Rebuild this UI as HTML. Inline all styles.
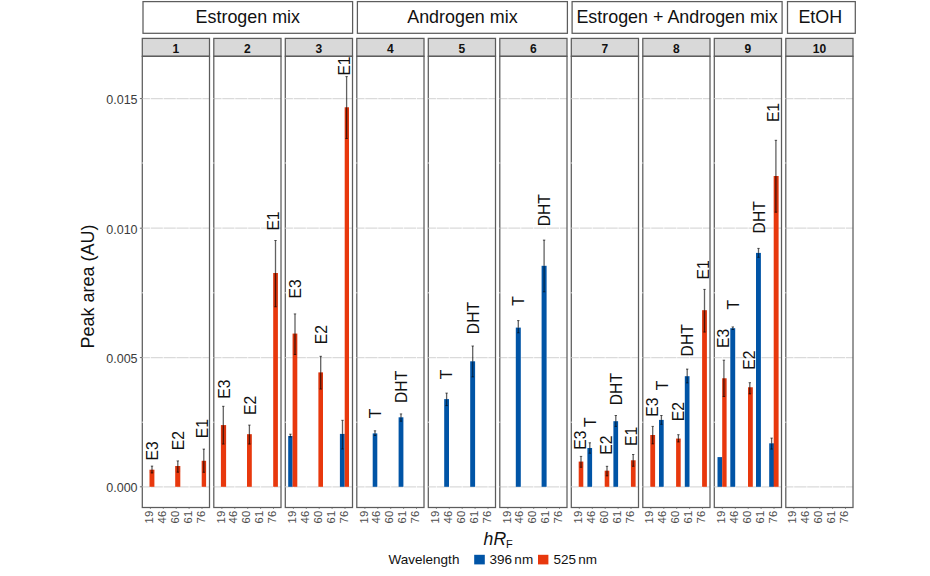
<!DOCTYPE html>
<html><head><meta charset="utf-8"><title>Peak area chart</title>
<style>html,body{margin:0;padding:0;background:#fff;}body{width:930px;height:576px;overflow:hidden;font-family:"Liberation Sans",sans-serif;}svg{display:block;}</style></head>
<body>
<svg width="930" height="576" viewBox="0 0 930 576" font-family="Liberation Sans, sans-serif">
<rect width="930" height="576" fill="#fff"/>
<rect x="143.0" y="1.6" width="209.6" height="31.7" fill="#fff" stroke="#5c5c5c" stroke-width="1.25"/>
<text x="247.8" y="23.4" font-size="17.9" text-anchor="middle" fill="#111">Estrogen mix</text>
<rect x="357.4" y="1.6" width="210.0" height="31.7" fill="#fff" stroke="#5c5c5c" stroke-width="1.25"/>
<text x="462.4" y="23.4" font-size="17.9" text-anchor="middle" fill="#111">Androgen mix</text>
<rect x="572.1" y="1.6" width="210.0" height="31.7" fill="#fff" stroke="#5c5c5c" stroke-width="1.25"/>
<text x="677.1" y="23.4" font-size="17.9" text-anchor="middle" fill="#111">Estrogen + Androgen mix</text>
<rect x="787.5" y="1.6" width="67.8" height="31.7" fill="#fff" stroke="#5c5c5c" stroke-width="1.25"/>
<text x="820.3" y="23.4" font-size="17.9" text-anchor="middle" fill="#111">EtOH</text>
<rect x="142.3" y="56.3" width="67.2" height="451.2" fill="#fff"/>
<line x1="142.3" x2="209.5" y1="98.6" y2="98.6" stroke="#dadada" stroke-width="1.2"/>
<line x1="142.3" x2="209.5" y1="228.2" y2="228.2" stroke="#dadada" stroke-width="1.2"/>
<line x1="142.3" x2="209.5" y1="357.6" y2="357.6" stroke="#dadada" stroke-width="1.2"/>
<line x1="142.3" x2="209.5" y1="486.8" y2="486.8" stroke="#dadada" stroke-width="1.2"/>
<line x1="150.4" x2="150.4" y1="56.3" y2="507.5" stroke="#fff" stroke-opacity="0.8" stroke-width="1.0"/>
<line x1="163.3" x2="163.3" y1="56.3" y2="507.5" stroke="#fff" stroke-opacity="0.8" stroke-width="1.0"/>
<line x1="176.2" x2="176.2" y1="56.3" y2="507.5" stroke="#fff" stroke-opacity="0.8" stroke-width="1.0"/>
<line x1="189.1" x2="189.1" y1="56.3" y2="507.5" stroke="#fff" stroke-opacity="0.8" stroke-width="1.0"/>
<line x1="202.0" x2="202.0" y1="56.3" y2="507.5" stroke="#fff" stroke-opacity="0.8" stroke-width="1.0"/>
<rect x="213.8" y="56.3" width="67.2" height="451.2" fill="#fff"/>
<line x1="213.8" x2="281.0" y1="98.6" y2="98.6" stroke="#dadada" stroke-width="1.2"/>
<line x1="213.8" x2="281.0" y1="228.2" y2="228.2" stroke="#dadada" stroke-width="1.2"/>
<line x1="213.8" x2="281.0" y1="357.6" y2="357.6" stroke="#dadada" stroke-width="1.2"/>
<line x1="213.8" x2="281.0" y1="486.8" y2="486.8" stroke="#dadada" stroke-width="1.2"/>
<line x1="221.9" x2="221.9" y1="56.3" y2="507.5" stroke="#fff" stroke-opacity="0.8" stroke-width="1.0"/>
<line x1="234.8" x2="234.8" y1="56.3" y2="507.5" stroke="#fff" stroke-opacity="0.8" stroke-width="1.0"/>
<line x1="247.7" x2="247.7" y1="56.3" y2="507.5" stroke="#fff" stroke-opacity="0.8" stroke-width="1.0"/>
<line x1="260.6" x2="260.6" y1="56.3" y2="507.5" stroke="#fff" stroke-opacity="0.8" stroke-width="1.0"/>
<line x1="273.5" x2="273.5" y1="56.3" y2="507.5" stroke="#fff" stroke-opacity="0.8" stroke-width="1.0"/>
<rect x="285.3" y="56.3" width="67.2" height="451.2" fill="#fff"/>
<line x1="285.3" x2="352.5" y1="98.6" y2="98.6" stroke="#dadada" stroke-width="1.2"/>
<line x1="285.3" x2="352.5" y1="228.2" y2="228.2" stroke="#dadada" stroke-width="1.2"/>
<line x1="285.3" x2="352.5" y1="357.6" y2="357.6" stroke="#dadada" stroke-width="1.2"/>
<line x1="285.3" x2="352.5" y1="486.8" y2="486.8" stroke="#dadada" stroke-width="1.2"/>
<line x1="293.4" x2="293.4" y1="56.3" y2="507.5" stroke="#fff" stroke-opacity="0.8" stroke-width="1.0"/>
<line x1="306.3" x2="306.3" y1="56.3" y2="507.5" stroke="#fff" stroke-opacity="0.8" stroke-width="1.0"/>
<line x1="319.2" x2="319.2" y1="56.3" y2="507.5" stroke="#fff" stroke-opacity="0.8" stroke-width="1.0"/>
<line x1="332.1" x2="332.1" y1="56.3" y2="507.5" stroke="#fff" stroke-opacity="0.8" stroke-width="1.0"/>
<line x1="345.0" x2="345.0" y1="56.3" y2="507.5" stroke="#fff" stroke-opacity="0.8" stroke-width="1.0"/>
<rect x="356.8" y="56.3" width="67.2" height="451.2" fill="#fff"/>
<line x1="356.8" x2="424.0" y1="98.6" y2="98.6" stroke="#dadada" stroke-width="1.2"/>
<line x1="356.8" x2="424.0" y1="228.2" y2="228.2" stroke="#dadada" stroke-width="1.2"/>
<line x1="356.8" x2="424.0" y1="357.6" y2="357.6" stroke="#dadada" stroke-width="1.2"/>
<line x1="356.8" x2="424.0" y1="486.8" y2="486.8" stroke="#dadada" stroke-width="1.2"/>
<line x1="364.9" x2="364.9" y1="56.3" y2="507.5" stroke="#fff" stroke-opacity="0.8" stroke-width="1.0"/>
<line x1="377.8" x2="377.8" y1="56.3" y2="507.5" stroke="#fff" stroke-opacity="0.8" stroke-width="1.0"/>
<line x1="390.7" x2="390.7" y1="56.3" y2="507.5" stroke="#fff" stroke-opacity="0.8" stroke-width="1.0"/>
<line x1="403.6" x2="403.6" y1="56.3" y2="507.5" stroke="#fff" stroke-opacity="0.8" stroke-width="1.0"/>
<line x1="416.5" x2="416.5" y1="56.3" y2="507.5" stroke="#fff" stroke-opacity="0.8" stroke-width="1.0"/>
<rect x="428.3" y="56.3" width="67.2" height="451.2" fill="#fff"/>
<line x1="428.3" x2="495.5" y1="98.6" y2="98.6" stroke="#dadada" stroke-width="1.2"/>
<line x1="428.3" x2="495.5" y1="228.2" y2="228.2" stroke="#dadada" stroke-width="1.2"/>
<line x1="428.3" x2="495.5" y1="357.6" y2="357.6" stroke="#dadada" stroke-width="1.2"/>
<line x1="428.3" x2="495.5" y1="486.8" y2="486.8" stroke="#dadada" stroke-width="1.2"/>
<line x1="436.4" x2="436.4" y1="56.3" y2="507.5" stroke="#fff" stroke-opacity="0.8" stroke-width="1.0"/>
<line x1="449.3" x2="449.3" y1="56.3" y2="507.5" stroke="#fff" stroke-opacity="0.8" stroke-width="1.0"/>
<line x1="462.2" x2="462.2" y1="56.3" y2="507.5" stroke="#fff" stroke-opacity="0.8" stroke-width="1.0"/>
<line x1="475.1" x2="475.1" y1="56.3" y2="507.5" stroke="#fff" stroke-opacity="0.8" stroke-width="1.0"/>
<line x1="488.0" x2="488.0" y1="56.3" y2="507.5" stroke="#fff" stroke-opacity="0.8" stroke-width="1.0"/>
<rect x="499.8" y="56.3" width="67.2" height="451.2" fill="#fff"/>
<line x1="499.8" x2="567.0" y1="98.6" y2="98.6" stroke="#dadada" stroke-width="1.2"/>
<line x1="499.8" x2="567.0" y1="228.2" y2="228.2" stroke="#dadada" stroke-width="1.2"/>
<line x1="499.8" x2="567.0" y1="357.6" y2="357.6" stroke="#dadada" stroke-width="1.2"/>
<line x1="499.8" x2="567.0" y1="486.8" y2="486.8" stroke="#dadada" stroke-width="1.2"/>
<line x1="507.9" x2="507.9" y1="56.3" y2="507.5" stroke="#fff" stroke-opacity="0.8" stroke-width="1.0"/>
<line x1="520.8" x2="520.8" y1="56.3" y2="507.5" stroke="#fff" stroke-opacity="0.8" stroke-width="1.0"/>
<line x1="533.7" x2="533.7" y1="56.3" y2="507.5" stroke="#fff" stroke-opacity="0.8" stroke-width="1.0"/>
<line x1="546.6" x2="546.6" y1="56.3" y2="507.5" stroke="#fff" stroke-opacity="0.8" stroke-width="1.0"/>
<line x1="559.5" x2="559.5" y1="56.3" y2="507.5" stroke="#fff" stroke-opacity="0.8" stroke-width="1.0"/>
<rect x="571.3" y="56.3" width="67.2" height="451.2" fill="#fff"/>
<line x1="571.3" x2="638.5" y1="98.6" y2="98.6" stroke="#dadada" stroke-width="1.2"/>
<line x1="571.3" x2="638.5" y1="228.2" y2="228.2" stroke="#dadada" stroke-width="1.2"/>
<line x1="571.3" x2="638.5" y1="357.6" y2="357.6" stroke="#dadada" stroke-width="1.2"/>
<line x1="571.3" x2="638.5" y1="486.8" y2="486.8" stroke="#dadada" stroke-width="1.2"/>
<line x1="579.3" x2="579.3" y1="56.3" y2="507.5" stroke="#fff" stroke-opacity="0.8" stroke-width="1.0"/>
<line x1="592.3" x2="592.3" y1="56.3" y2="507.5" stroke="#fff" stroke-opacity="0.8" stroke-width="1.0"/>
<line x1="605.2" x2="605.2" y1="56.3" y2="507.5" stroke="#fff" stroke-opacity="0.8" stroke-width="1.0"/>
<line x1="618.1" x2="618.1" y1="56.3" y2="507.5" stroke="#fff" stroke-opacity="0.8" stroke-width="1.0"/>
<line x1="631.0" x2="631.0" y1="56.3" y2="507.5" stroke="#fff" stroke-opacity="0.8" stroke-width="1.0"/>
<rect x="642.8" y="56.3" width="67.2" height="451.2" fill="#fff"/>
<line x1="642.8" x2="710.0" y1="98.6" y2="98.6" stroke="#dadada" stroke-width="1.2"/>
<line x1="642.8" x2="710.0" y1="228.2" y2="228.2" stroke="#dadada" stroke-width="1.2"/>
<line x1="642.8" x2="710.0" y1="357.6" y2="357.6" stroke="#dadada" stroke-width="1.2"/>
<line x1="642.8" x2="710.0" y1="486.8" y2="486.8" stroke="#dadada" stroke-width="1.2"/>
<line x1="650.8" x2="650.8" y1="56.3" y2="507.5" stroke="#fff" stroke-opacity="0.8" stroke-width="1.0"/>
<line x1="663.8" x2="663.8" y1="56.3" y2="507.5" stroke="#fff" stroke-opacity="0.8" stroke-width="1.0"/>
<line x1="676.7" x2="676.7" y1="56.3" y2="507.5" stroke="#fff" stroke-opacity="0.8" stroke-width="1.0"/>
<line x1="689.6" x2="689.6" y1="56.3" y2="507.5" stroke="#fff" stroke-opacity="0.8" stroke-width="1.0"/>
<line x1="702.5" x2="702.5" y1="56.3" y2="507.5" stroke="#fff" stroke-opacity="0.8" stroke-width="1.0"/>
<rect x="714.3" y="56.3" width="67.2" height="451.2" fill="#fff"/>
<line x1="714.3" x2="781.5" y1="98.6" y2="98.6" stroke="#dadada" stroke-width="1.2"/>
<line x1="714.3" x2="781.5" y1="228.2" y2="228.2" stroke="#dadada" stroke-width="1.2"/>
<line x1="714.3" x2="781.5" y1="357.6" y2="357.6" stroke="#dadada" stroke-width="1.2"/>
<line x1="714.3" x2="781.5" y1="486.8" y2="486.8" stroke="#dadada" stroke-width="1.2"/>
<line x1="722.3" x2="722.3" y1="56.3" y2="507.5" stroke="#fff" stroke-opacity="0.8" stroke-width="1.0"/>
<line x1="735.3" x2="735.3" y1="56.3" y2="507.5" stroke="#fff" stroke-opacity="0.8" stroke-width="1.0"/>
<line x1="748.2" x2="748.2" y1="56.3" y2="507.5" stroke="#fff" stroke-opacity="0.8" stroke-width="1.0"/>
<line x1="761.1" x2="761.1" y1="56.3" y2="507.5" stroke="#fff" stroke-opacity="0.8" stroke-width="1.0"/>
<line x1="774.0" x2="774.0" y1="56.3" y2="507.5" stroke="#fff" stroke-opacity="0.8" stroke-width="1.0"/>
<rect x="785.8" y="56.3" width="67.2" height="451.2" fill="#fff"/>
<line x1="785.8" x2="853.0" y1="98.6" y2="98.6" stroke="#dadada" stroke-width="1.2"/>
<line x1="785.8" x2="853.0" y1="228.2" y2="228.2" stroke="#dadada" stroke-width="1.2"/>
<line x1="785.8" x2="853.0" y1="357.6" y2="357.6" stroke="#dadada" stroke-width="1.2"/>
<line x1="785.8" x2="853.0" y1="486.8" y2="486.8" stroke="#dadada" stroke-width="1.2"/>
<line x1="793.8" x2="793.8" y1="56.3" y2="507.5" stroke="#fff" stroke-opacity="0.8" stroke-width="1.0"/>
<line x1="806.8" x2="806.8" y1="56.3" y2="507.5" stroke="#fff" stroke-opacity="0.8" stroke-width="1.0"/>
<line x1="819.7" x2="819.7" y1="56.3" y2="507.5" stroke="#fff" stroke-opacity="0.8" stroke-width="1.0"/>
<line x1="832.6" x2="832.6" y1="56.3" y2="507.5" stroke="#fff" stroke-opacity="0.8" stroke-width="1.0"/>
<line x1="845.5" x2="845.5" y1="56.3" y2="507.5" stroke="#fff" stroke-opacity="0.8" stroke-width="1.0"/>
<rect x="149.5" y="469.7" width="4.9" height="17.1" fill="#e8380d"/>
<rect x="175.2" y="466.0" width="5.1" height="20.8" fill="#e8380d"/>
<rect x="201.7" y="460.8" width="4.4" height="26.0" fill="#e8380d"/>
<rect x="220.9" y="425.1" width="5.2" height="61.7" fill="#e8380d"/>
<rect x="247" y="434.2" width="4.8" height="52.6" fill="#e8380d"/>
<rect x="273.2" y="273" width="4.7" height="213.8" fill="#e8380d"/>
<rect x="288.2" y="436" width="4.4" height="50.8" fill="#0054a6"/>
<rect x="292.6" y="333.6" width="4.7" height="153.2" fill="#e8380d"/>
<rect x="318.4" y="372.4" width="4.6" height="114.4" fill="#e8380d"/>
<rect x="339.9" y="433.9" width="4.8" height="52.9" fill="#0054a6"/>
<rect x="344.7" y="107.3" width="4.3" height="379.5" fill="#e8380d"/>
<rect x="372.7" y="433.4" width="4.6" height="53.4" fill="#0054a6"/>
<rect x="398.6" y="417.3" width="4.8" height="69.5" fill="#0054a6"/>
<rect x="444.2" y="399.1" width="4.8" height="87.7" fill="#0054a6"/>
<rect x="470.2" y="361.3" width="4.9" height="125.5" fill="#0054a6"/>
<rect x="515.8" y="327.6" width="5.0" height="159.2" fill="#0054a6"/>
<rect x="541.6" y="265.8" width="5.0" height="221.0" fill="#0054a6"/>
<rect x="578.7" y="461.6" width="4.6" height="25.2" fill="#e8380d"/>
<rect x="587.4" y="448" width="4.7" height="38.8" fill="#0054a6"/>
<rect x="604.7" y="470.7" width="4.6" height="16.1" fill="#e8380d"/>
<rect x="613.4" y="421.2" width="4.7" height="65.6" fill="#0054a6"/>
<rect x="630.9" y="460.3" width="4.7" height="26.5" fill="#e8380d"/>
<rect x="650.3" y="435" width="4.8" height="51.8" fill="#e8380d"/>
<rect x="659" y="419.9" width="4.7" height="66.9" fill="#0054a6"/>
<rect x="676.1" y="438.6" width="4.6" height="48.2" fill="#e8380d"/>
<rect x="684.8" y="376.2" width="4.7" height="110.6" fill="#0054a6"/>
<rect x="702.1" y="310.2" width="4.8" height="176.6" fill="#e8380d"/>
<rect x="717.5" y="457.1" width="4.7" height="29.7" fill="#0054a6"/>
<rect x="722.2" y="378.3" width="4.4" height="108.5" fill="#e8380d"/>
<rect x="730.3" y="328.2" width="4.9" height="158.6" fill="#0054a6"/>
<rect x="748" y="387.3" width="4.8" height="99.5" fill="#e8380d"/>
<rect x="756" y="252.9" width="4.9" height="233.9" fill="#0054a6"/>
<rect x="769.2" y="443.3" width="4.8" height="43.5" fill="#0054a6"/>
<rect x="773.7" y="176" width="4.9" height="310.8" fill="#e8380d"/>
<rect x="149.5" y="469.7" width="4.9" height="3.3" fill="#400" fill-opacity="0.1"/>
<path d="M152 466.1V473.0" stroke="#000" stroke-opacity="0.62" stroke-width="1.3" fill="none"/>
<path d="M150.8 466.1h2.4M150.8 473.0h2.4" stroke="#000" stroke-opacity="0.7" stroke-width="0.9" fill="none"/>
<rect x="175.2" y="466.0" width="5.1" height="6.2" fill="#400" fill-opacity="0.1"/>
<path d="M177.8 460.9V472.2" stroke="#000" stroke-opacity="0.62" stroke-width="1.3" fill="none"/>
<path d="M176.60000000000002 460.9h2.4M176.60000000000002 472.2h2.4" stroke="#000" stroke-opacity="0.7" stroke-width="0.9" fill="none"/>
<rect x="201.7" y="460.8" width="4.4" height="11.5" fill="#400" fill-opacity="0.1"/>
<path d="M203.8 449.1V472.3" stroke="#000" stroke-opacity="0.62" stroke-width="1.3" fill="none"/>
<path d="M202.60000000000002 449.1h2.4M202.60000000000002 472.3h2.4" stroke="#000" stroke-opacity="0.7" stroke-width="0.9" fill="none"/>
<rect x="220.9" y="425.1" width="5.2" height="19.0" fill="#400" fill-opacity="0.1"/>
<path d="M223.3 406.3V444.1" stroke="#000" stroke-opacity="0.62" stroke-width="1.3" fill="none"/>
<path d="M222.10000000000002 406.3h2.4M222.10000000000002 444.1h2.4" stroke="#000" stroke-opacity="0.7" stroke-width="0.9" fill="none"/>
<rect x="247" y="434.2" width="4.8" height="9.9" fill="#400" fill-opacity="0.1"/>
<path d="M249.4 425.1V444.1" stroke="#000" stroke-opacity="0.62" stroke-width="1.3" fill="none"/>
<path d="M248.20000000000002 425.1h2.4M248.20000000000002 444.1h2.4" stroke="#000" stroke-opacity="0.7" stroke-width="0.9" fill="none"/>
<rect x="273.2" y="273" width="4.7" height="33.8" fill="#400" fill-opacity="0.1"/>
<path d="M275.5 240.5V306.8" stroke="#000" stroke-opacity="0.62" stroke-width="1.3" fill="none"/>
<path d="M274.3 240.5h2.4M274.3 306.8h2.4" stroke="#000" stroke-opacity="0.7" stroke-width="0.9" fill="none"/>
<path d="M290.4 434.2V436" stroke="#000" stroke-opacity="0.62" stroke-width="1.3" fill="none"/>
<path d="M290.4 436V437.0" stroke="#000" stroke-opacity="0.48" stroke-width="1.3" fill="none"/>
<path d="M289.2 434.2h2.4" stroke="#000" stroke-opacity="0.7" stroke-width="0.9" fill="none"/>
<path d="M289.2 437.0h2.4" stroke="#000" stroke-opacity="0.65" stroke-width="0.9" fill="none"/>
<rect x="292.6" y="333.6" width="4.7" height="20.9" fill="#400" fill-opacity="0.1"/>
<path d="M295 313.9V354.5" stroke="#000" stroke-opacity="0.62" stroke-width="1.3" fill="none"/>
<path d="M293.8 313.9h2.4M293.8 354.5h2.4" stroke="#000" stroke-opacity="0.7" stroke-width="0.9" fill="none"/>
<rect x="318.4" y="372.4" width="4.6" height="16.7" fill="#400" fill-opacity="0.1"/>
<path d="M320.7 356.3V389.1" stroke="#000" stroke-opacity="0.62" stroke-width="1.3" fill="none"/>
<path d="M319.5 356.3h2.4M319.5 389.1h2.4" stroke="#000" stroke-opacity="0.7" stroke-width="0.9" fill="none"/>
<path d="M342.5 420.3V433.9" stroke="#000" stroke-opacity="0.62" stroke-width="1.3" fill="none"/>
<path d="M342.5 433.9V449" stroke="#000" stroke-opacity="0.48" stroke-width="1.3" fill="none"/>
<path d="M341.3 420.3h2.4" stroke="#000" stroke-opacity="0.7" stroke-width="0.9" fill="none"/>
<path d="M341.3 449h2.4" stroke="#000" stroke-opacity="0.65" stroke-width="0.9" fill="none"/>
<rect x="344.7" y="107.3" width="4.3" height="31.2" fill="#400" fill-opacity="0.1"/>
<path d="M346.6 76.6V138.5" stroke="#000" stroke-opacity="0.62" stroke-width="1.3" fill="none"/>
<path d="M345.40000000000003 76.6h2.4M345.40000000000003 138.5h2.4" stroke="#000" stroke-opacity="0.7" stroke-width="0.9" fill="none"/>
<path d="M375 430.8V433.4" stroke="#000" stroke-opacity="0.62" stroke-width="1.3" fill="none"/>
<path d="M375 433.4V435.5" stroke="#000" stroke-opacity="0.48" stroke-width="1.3" fill="none"/>
<path d="M373.8 430.8h2.4" stroke="#000" stroke-opacity="0.7" stroke-width="0.9" fill="none"/>
<path d="M373.8 435.5h2.4" stroke="#000" stroke-opacity="0.65" stroke-width="0.9" fill="none"/>
<path d="M401 413.9V417.3" stroke="#000" stroke-opacity="0.62" stroke-width="1.3" fill="none"/>
<path d="M401 417.3V421.2" stroke="#000" stroke-opacity="0.48" stroke-width="1.3" fill="none"/>
<path d="M399.8 413.9h2.4" stroke="#000" stroke-opacity="0.7" stroke-width="0.9" fill="none"/>
<path d="M399.8 421.2h2.4" stroke="#000" stroke-opacity="0.65" stroke-width="0.9" fill="none"/>
<path d="M446.6 393.1V399.1" stroke="#000" stroke-opacity="0.62" stroke-width="1.3" fill="none"/>
<path d="M446.6 399.1V405.6" stroke="#000" stroke-opacity="0.48" stroke-width="1.3" fill="none"/>
<path d="M445.40000000000003 393.1h2.4" stroke="#000" stroke-opacity="0.7" stroke-width="0.9" fill="none"/>
<path d="M445.40000000000003 405.6h2.4" stroke="#000" stroke-opacity="0.65" stroke-width="0.9" fill="none"/>
<path d="M472.7 346V361.3" stroke="#000" stroke-opacity="0.62" stroke-width="1.3" fill="none"/>
<path d="M472.7 361.3V376.9" stroke="#000" stroke-opacity="0.48" stroke-width="1.3" fill="none"/>
<path d="M471.5 346h2.4" stroke="#000" stroke-opacity="0.7" stroke-width="0.9" fill="none"/>
<path d="M471.5 376.9h2.4" stroke="#000" stroke-opacity="0.65" stroke-width="0.9" fill="none"/>
<path d="M518.3 320.6V327.6" stroke="#000" stroke-opacity="0.62" stroke-width="1.3" fill="none"/>
<path d="M518.3 327.6V332.8" stroke="#000" stroke-opacity="0.48" stroke-width="1.3" fill="none"/>
<path d="M517.0999999999999 320.6h2.4" stroke="#000" stroke-opacity="0.7" stroke-width="0.9" fill="none"/>
<path d="M517.0999999999999 332.8h2.4" stroke="#000" stroke-opacity="0.65" stroke-width="0.9" fill="none"/>
<path d="M544.1 240.1V265.8" stroke="#000" stroke-opacity="0.62" stroke-width="1.3" fill="none"/>
<path d="M544.1 265.8V291.8" stroke="#000" stroke-opacity="0.48" stroke-width="1.3" fill="none"/>
<path d="M542.9 240.1h2.4" stroke="#000" stroke-opacity="0.7" stroke-width="0.9" fill="none"/>
<path d="M542.9 291.8h2.4" stroke="#000" stroke-opacity="0.65" stroke-width="0.9" fill="none"/>
<rect x="578.7" y="461.6" width="4.6" height="5.7" fill="#400" fill-opacity="0.1"/>
<path d="M581 456.4V467.3" stroke="#000" stroke-opacity="0.62" stroke-width="1.3" fill="none"/>
<path d="M579.8 456.4h2.4M579.8 467.3h2.4" stroke="#000" stroke-opacity="0.7" stroke-width="0.9" fill="none"/>
<path d="M589.8 442.8V448" stroke="#000" stroke-opacity="0.62" stroke-width="1.3" fill="none"/>
<path d="M589.8 448V453.2" stroke="#000" stroke-opacity="0.48" stroke-width="1.3" fill="none"/>
<path d="M588.5999999999999 442.8h2.4" stroke="#000" stroke-opacity="0.7" stroke-width="0.9" fill="none"/>
<path d="M588.5999999999999 453.2h2.4" stroke="#000" stroke-opacity="0.65" stroke-width="0.9" fill="none"/>
<rect x="604.7" y="470.7" width="4.6" height="5.2" fill="#400" fill-opacity="0.1"/>
<path d="M607 466.3V475.9" stroke="#000" stroke-opacity="0.62" stroke-width="1.3" fill="none"/>
<path d="M605.8 466.3h2.4M605.8 475.9h2.4" stroke="#000" stroke-opacity="0.7" stroke-width="0.9" fill="none"/>
<path d="M615.8 415.5V421.2" stroke="#000" stroke-opacity="0.62" stroke-width="1.3" fill="none"/>
<path d="M615.8 421.2V426.4" stroke="#000" stroke-opacity="0.48" stroke-width="1.3" fill="none"/>
<path d="M614.5999999999999 415.5h2.4" stroke="#000" stroke-opacity="0.7" stroke-width="0.9" fill="none"/>
<path d="M614.5999999999999 426.4h2.4" stroke="#000" stroke-opacity="0.65" stroke-width="0.9" fill="none"/>
<rect x="630.9" y="460.3" width="4.7" height="6.0" fill="#400" fill-opacity="0.1"/>
<path d="M633.2 454.5V466.3" stroke="#000" stroke-opacity="0.62" stroke-width="1.3" fill="none"/>
<path d="M632.0 454.5h2.4M632.0 466.3h2.4" stroke="#000" stroke-opacity="0.7" stroke-width="0.9" fill="none"/>
<rect x="650.3" y="435" width="4.8" height="8.9" fill="#400" fill-opacity="0.1"/>
<path d="M652.7 426.4V443.9" stroke="#000" stroke-opacity="0.62" stroke-width="1.3" fill="none"/>
<path d="M651.5 426.4h2.4M651.5 443.9h2.4" stroke="#000" stroke-opacity="0.7" stroke-width="0.9" fill="none"/>
<path d="M661.4 415.5V419.9" stroke="#000" stroke-opacity="0.62" stroke-width="1.3" fill="none"/>
<path d="M661.4 419.9V424.3" stroke="#000" stroke-opacity="0.48" stroke-width="1.3" fill="none"/>
<path d="M660.1999999999999 415.5h2.4" stroke="#000" stroke-opacity="0.7" stroke-width="0.9" fill="none"/>
<path d="M660.1999999999999 424.3h2.4" stroke="#000" stroke-opacity="0.65" stroke-width="0.9" fill="none"/>
<rect x="676.1" y="438.6" width="4.6" height="3.4" fill="#400" fill-opacity="0.1"/>
<path d="M678.4 434.7V442" stroke="#000" stroke-opacity="0.62" stroke-width="1.3" fill="none"/>
<path d="M677.1999999999999 434.7h2.4M677.1999999999999 442h2.4" stroke="#000" stroke-opacity="0.7" stroke-width="0.9" fill="none"/>
<path d="M687.2 369.1V376.2" stroke="#000" stroke-opacity="0.62" stroke-width="1.3" fill="none"/>
<path d="M687.2 376.2V382.9" stroke="#000" stroke-opacity="0.48" stroke-width="1.3" fill="none"/>
<path d="M686.0 369.1h2.4" stroke="#000" stroke-opacity="0.7" stroke-width="0.9" fill="none"/>
<path d="M686.0 382.9h2.4" stroke="#000" stroke-opacity="0.65" stroke-width="0.9" fill="none"/>
<rect x="702.1" y="310.2" width="4.8" height="21.9" fill="#400" fill-opacity="0.1"/>
<path d="M704.5 289.4V332.1" stroke="#000" stroke-opacity="0.62" stroke-width="1.3" fill="none"/>
<path d="M703.3 289.4h2.4M703.3 332.1h2.4" stroke="#000" stroke-opacity="0.7" stroke-width="0.9" fill="none"/>
<rect x="722.2" y="378.3" width="4.4" height="18.2" fill="#400" fill-opacity="0.1"/>
<path d="M723.9 360.2V396.5" stroke="#000" stroke-opacity="0.62" stroke-width="1.3" fill="none"/>
<path d="M722.6999999999999 360.2h2.4M722.6999999999999 396.5h2.4" stroke="#000" stroke-opacity="0.7" stroke-width="0.9" fill="none"/>
<path d="M732.8 326.9V328.2" stroke="#000" stroke-opacity="0.62" stroke-width="1.3" fill="none"/>
<path d="M732.8 328.2V329.5" stroke="#000" stroke-opacity="0.48" stroke-width="1.3" fill="none"/>
<path d="M731.5999999999999 326.9h2.4" stroke="#000" stroke-opacity="0.7" stroke-width="0.9" fill="none"/>
<path d="M731.5999999999999 329.5h2.4" stroke="#000" stroke-opacity="0.65" stroke-width="0.9" fill="none"/>
<rect x="748" y="387.3" width="4.8" height="6.6" fill="#400" fill-opacity="0.1"/>
<path d="M749.8 382.7V393.9" stroke="#000" stroke-opacity="0.62" stroke-width="1.3" fill="none"/>
<path d="M748.5999999999999 382.7h2.4M748.5999999999999 393.9h2.4" stroke="#000" stroke-opacity="0.7" stroke-width="0.9" fill="none"/>
<path d="M758.5 248.4V252.9" stroke="#000" stroke-opacity="0.62" stroke-width="1.3" fill="none"/>
<path d="M758.5 252.9V257.3" stroke="#000" stroke-opacity="0.48" stroke-width="1.3" fill="none"/>
<path d="M757.3 248.4h2.4" stroke="#000" stroke-opacity="0.7" stroke-width="0.9" fill="none"/>
<path d="M757.3 257.3h2.4" stroke="#000" stroke-opacity="0.65" stroke-width="0.9" fill="none"/>
<path d="M771.6 438.1V443.3" stroke="#000" stroke-opacity="0.62" stroke-width="1.3" fill="none"/>
<path d="M771.6 443.3V449.1" stroke="#000" stroke-opacity="0.48" stroke-width="1.3" fill="none"/>
<path d="M770.4 438.1h2.4" stroke="#000" stroke-opacity="0.7" stroke-width="0.9" fill="none"/>
<path d="M770.4 449.1h2.4" stroke="#000" stroke-opacity="0.65" stroke-width="0.9" fill="none"/>
<rect x="773.7" y="176" width="4.9" height="36.2" fill="#400" fill-opacity="0.1"/>
<path d="M775.9 140.3V212.2" stroke="#000" stroke-opacity="0.62" stroke-width="1.3" fill="none"/>
<path d="M774.6999999999999 140.3h2.4M774.6999999999999 212.2h2.4" stroke="#000" stroke-opacity="0.7" stroke-width="0.9" fill="none"/>
<text transform="translate(157.5 450.9) rotate(-90)" font-size="15.7" text-anchor="middle" fill="#111">E3</text>
<text transform="translate(183.9 440.6) rotate(-90)" font-size="15.7" text-anchor="middle" fill="#111">E2</text>
<text transform="translate(207.7 428.7) rotate(-90)" font-size="15.7" text-anchor="middle" fill="#111">E1</text>
<text transform="translate(229.9 389.1) rotate(-90)" font-size="15.7" text-anchor="middle" fill="#111">E3</text>
<text transform="translate(256.1 405.4) rotate(-90)" font-size="15.7" text-anchor="middle" fill="#111">E2</text>
<text transform="translate(278.9 221.0) rotate(-90)" font-size="15.7" text-anchor="middle" fill="#111">E1</text>
<text transform="translate(301.0 288.8) rotate(-90)" font-size="15.7" text-anchor="middle" fill="#111">E3</text>
<text transform="translate(326.7 334.6) rotate(-90)" font-size="15.7" text-anchor="middle" fill="#111">E2</text>
<text transform="translate(349.9 66.0) rotate(-90)" font-size="15.7" text-anchor="middle" fill="#111">E1</text>
<text transform="translate(380.6 413.4) rotate(-90)" font-size="15.7" text-anchor="middle" fill="#111">T</text>
<text transform="translate(407.2 386.9) rotate(-90)" font-size="15.7" text-anchor="middle" fill="#111">DHT</text>
<text transform="translate(452.4 374.4) rotate(-90)" font-size="15.7" text-anchor="middle" fill="#111">T</text>
<text transform="translate(478.7 318.0) rotate(-90)" font-size="15.7" text-anchor="middle" fill="#111">DHT</text>
<text transform="translate(523.8 300.9) rotate(-90)" font-size="15.7" text-anchor="middle" fill="#111">T</text>
<text transform="translate(550.0 210.2) rotate(-90)" font-size="15.7" text-anchor="middle" fill="#111">DHT</text>
<text transform="translate(585.7 440.1) rotate(-90)" font-size="15.7" text-anchor="middle" fill="#111">E3</text>
<text transform="translate(596.1 422.1) rotate(-90)" font-size="15.7" text-anchor="middle" fill="#111">T</text>
<text transform="translate(612.0 445.1) rotate(-90)" font-size="15.7" text-anchor="middle" fill="#111">E2</text>
<text transform="translate(621.9 389.1) rotate(-90)" font-size="15.7" text-anchor="middle" fill="#111">DHT</text>
<text transform="translate(636.7 436.4) rotate(-90)" font-size="15.7" text-anchor="middle" fill="#111">E1</text>
<text transform="translate(658.0 407.2) rotate(-90)" font-size="15.7" text-anchor="middle" fill="#111">E3</text>
<text transform="translate(667.7 385.4) rotate(-90)" font-size="15.7" text-anchor="middle" fill="#111">T</text>
<text transform="translate(684.0 411.7) rotate(-90)" font-size="15.7" text-anchor="middle" fill="#111">E2</text>
<text transform="translate(693.0 340.3) rotate(-90)" font-size="15.7" text-anchor="middle" fill="#111">DHT</text>
<text transform="translate(709.3 269.8) rotate(-90)" font-size="15.7" text-anchor="middle" fill="#111">E1</text>
<text transform="translate(728.9 338.3) rotate(-90)" font-size="15.7" text-anchor="middle" fill="#111">E3</text>
<text transform="translate(738.8 304.6) rotate(-90)" font-size="15.7" text-anchor="middle" fill="#111">T</text>
<text transform="translate(754.5 360.2) rotate(-90)" font-size="15.7" text-anchor="middle" fill="#111">E2</text>
<text transform="translate(764.9 217.3) rotate(-90)" font-size="15.7" text-anchor="middle" fill="#111">DHT</text>
<text transform="translate(779.0 112.5) rotate(-90)" font-size="15.7" text-anchor="middle" fill="#111">E1</text>
<rect x="142.3" y="38.4" width="67.2" height="17.9" fill="#d9d9d9" stroke="#5c5c5c" stroke-width="1.25"/>
<rect x="142.3" y="56.3" width="67.2" height="451.2" fill="none" stroke="#5c5c5c" stroke-width="1.25"/>
<rect x="141.75" y="98.0" width="1.1" height="1.2" fill="#dadada" fill-opacity="0.75"/>
<rect x="141.75" y="227.6" width="1.1" height="1.2" fill="#dadada" fill-opacity="0.75"/>
<rect x="141.75" y="357.0" width="1.1" height="1.2" fill="#dadada" fill-opacity="0.75"/>
<rect x="141.75" y="486.2" width="1.1" height="1.2" fill="#dadada" fill-opacity="0.75"/>
<rect x="141.75" y="162.45" width="1.1" height="1.1" fill="#fff" fill-opacity="0.85"/>
<rect x="141.75" y="292.25" width="1.1" height="1.1" fill="#fff" fill-opacity="0.85"/>
<rect x="141.75" y="421.65" width="1.1" height="1.1" fill="#fff" fill-opacity="0.85"/>
<text x="175.9" y="52.9" font-size="12" font-weight="bold" text-anchor="middle" fill="#111">1</text>
<line x1="150.4" x2="150.4" y1="507.5" y2="509.0" stroke="#666" stroke-width="0.7"/>
<text transform="translate(153.0 510.8) rotate(-90)" font-size="11.3" text-anchor="end" fill="#4d4d4d">19</text>
<line x1="163.3" x2="163.3" y1="507.5" y2="509.0" stroke="#666" stroke-width="0.7"/>
<text transform="translate(165.9 510.8) rotate(-90)" font-size="11.3" text-anchor="end" fill="#4d4d4d">46</text>
<line x1="176.2" x2="176.2" y1="507.5" y2="509.0" stroke="#666" stroke-width="0.7"/>
<text transform="translate(178.8 510.8) rotate(-90)" font-size="11.3" text-anchor="end" fill="#4d4d4d">60</text>
<line x1="189.1" x2="189.1" y1="507.5" y2="509.0" stroke="#666" stroke-width="0.7"/>
<text transform="translate(191.7 510.8) rotate(-90)" font-size="11.3" text-anchor="end" fill="#4d4d4d">61</text>
<line x1="202.0" x2="202.0" y1="507.5" y2="509.0" stroke="#666" stroke-width="0.7"/>
<text transform="translate(204.6 510.8) rotate(-90)" font-size="11.3" text-anchor="end" fill="#4d4d4d">76</text>
<rect x="213.8" y="38.4" width="67.2" height="17.9" fill="#d9d9d9" stroke="#5c5c5c" stroke-width="1.25"/>
<rect x="213.8" y="56.3" width="67.2" height="451.2" fill="none" stroke="#5c5c5c" stroke-width="1.25"/>
<rect x="213.25" y="98.0" width="1.1" height="1.2" fill="#dadada" fill-opacity="0.75"/>
<rect x="213.25" y="227.6" width="1.1" height="1.2" fill="#dadada" fill-opacity="0.75"/>
<rect x="213.25" y="357.0" width="1.1" height="1.2" fill="#dadada" fill-opacity="0.75"/>
<rect x="213.25" y="486.2" width="1.1" height="1.2" fill="#dadada" fill-opacity="0.75"/>
<rect x="213.25" y="162.45" width="1.1" height="1.1" fill="#fff" fill-opacity="0.85"/>
<rect x="213.25" y="292.25" width="1.1" height="1.1" fill="#fff" fill-opacity="0.85"/>
<rect x="213.25" y="421.65" width="1.1" height="1.1" fill="#fff" fill-opacity="0.85"/>
<text x="247.4" y="52.9" font-size="12" font-weight="bold" text-anchor="middle" fill="#111">2</text>
<line x1="221.9" x2="221.9" y1="507.5" y2="509.0" stroke="#666" stroke-width="0.7"/>
<text transform="translate(224.5 510.8) rotate(-90)" font-size="11.3" text-anchor="end" fill="#4d4d4d">19</text>
<line x1="234.8" x2="234.8" y1="507.5" y2="509.0" stroke="#666" stroke-width="0.7"/>
<text transform="translate(237.4 510.8) rotate(-90)" font-size="11.3" text-anchor="end" fill="#4d4d4d">46</text>
<line x1="247.7" x2="247.7" y1="507.5" y2="509.0" stroke="#666" stroke-width="0.7"/>
<text transform="translate(250.3 510.8) rotate(-90)" font-size="11.3" text-anchor="end" fill="#4d4d4d">60</text>
<line x1="260.6" x2="260.6" y1="507.5" y2="509.0" stroke="#666" stroke-width="0.7"/>
<text transform="translate(263.2 510.8) rotate(-90)" font-size="11.3" text-anchor="end" fill="#4d4d4d">61</text>
<line x1="273.5" x2="273.5" y1="507.5" y2="509.0" stroke="#666" stroke-width="0.7"/>
<text transform="translate(276.1 510.8) rotate(-90)" font-size="11.3" text-anchor="end" fill="#4d4d4d">76</text>
<rect x="285.3" y="38.4" width="67.2" height="17.9" fill="#d9d9d9" stroke="#5c5c5c" stroke-width="1.25"/>
<rect x="285.3" y="56.3" width="67.2" height="451.2" fill="none" stroke="#5c5c5c" stroke-width="1.25"/>
<rect x="284.75" y="98.0" width="1.1" height="1.2" fill="#dadada" fill-opacity="0.75"/>
<rect x="284.75" y="227.6" width="1.1" height="1.2" fill="#dadada" fill-opacity="0.75"/>
<rect x="284.75" y="357.0" width="1.1" height="1.2" fill="#dadada" fill-opacity="0.75"/>
<rect x="284.75" y="486.2" width="1.1" height="1.2" fill="#dadada" fill-opacity="0.75"/>
<rect x="284.75" y="162.45" width="1.1" height="1.1" fill="#fff" fill-opacity="0.85"/>
<rect x="284.75" y="292.25" width="1.1" height="1.1" fill="#fff" fill-opacity="0.85"/>
<rect x="284.75" y="421.65" width="1.1" height="1.1" fill="#fff" fill-opacity="0.85"/>
<text x="318.9" y="52.9" font-size="12" font-weight="bold" text-anchor="middle" fill="#111">3</text>
<line x1="293.4" x2="293.4" y1="507.5" y2="509.0" stroke="#666" stroke-width="0.7"/>
<text transform="translate(296.0 510.8) rotate(-90)" font-size="11.3" text-anchor="end" fill="#4d4d4d">19</text>
<line x1="306.3" x2="306.3" y1="507.5" y2="509.0" stroke="#666" stroke-width="0.7"/>
<text transform="translate(308.9 510.8) rotate(-90)" font-size="11.3" text-anchor="end" fill="#4d4d4d">46</text>
<line x1="319.2" x2="319.2" y1="507.5" y2="509.0" stroke="#666" stroke-width="0.7"/>
<text transform="translate(321.8 510.8) rotate(-90)" font-size="11.3" text-anchor="end" fill="#4d4d4d">60</text>
<line x1="332.1" x2="332.1" y1="507.5" y2="509.0" stroke="#666" stroke-width="0.7"/>
<text transform="translate(334.7 510.8) rotate(-90)" font-size="11.3" text-anchor="end" fill="#4d4d4d">61</text>
<line x1="345.0" x2="345.0" y1="507.5" y2="509.0" stroke="#666" stroke-width="0.7"/>
<text transform="translate(347.6 510.8) rotate(-90)" font-size="11.3" text-anchor="end" fill="#4d4d4d">76</text>
<rect x="356.8" y="38.4" width="67.2" height="17.9" fill="#d9d9d9" stroke="#5c5c5c" stroke-width="1.25"/>
<rect x="356.8" y="56.3" width="67.2" height="451.2" fill="none" stroke="#5c5c5c" stroke-width="1.25"/>
<rect x="356.25" y="98.0" width="1.1" height="1.2" fill="#dadada" fill-opacity="0.75"/>
<rect x="356.25" y="227.6" width="1.1" height="1.2" fill="#dadada" fill-opacity="0.75"/>
<rect x="356.25" y="357.0" width="1.1" height="1.2" fill="#dadada" fill-opacity="0.75"/>
<rect x="356.25" y="486.2" width="1.1" height="1.2" fill="#dadada" fill-opacity="0.75"/>
<rect x="356.25" y="162.45" width="1.1" height="1.1" fill="#fff" fill-opacity="0.85"/>
<rect x="356.25" y="292.25" width="1.1" height="1.1" fill="#fff" fill-opacity="0.85"/>
<rect x="356.25" y="421.65" width="1.1" height="1.1" fill="#fff" fill-opacity="0.85"/>
<text x="390.4" y="52.9" font-size="12" font-weight="bold" text-anchor="middle" fill="#111">4</text>
<line x1="364.9" x2="364.9" y1="507.5" y2="509.0" stroke="#666" stroke-width="0.7"/>
<text transform="translate(367.5 510.8) rotate(-90)" font-size="11.3" text-anchor="end" fill="#4d4d4d">19</text>
<line x1="377.8" x2="377.8" y1="507.5" y2="509.0" stroke="#666" stroke-width="0.7"/>
<text transform="translate(380.4 510.8) rotate(-90)" font-size="11.3" text-anchor="end" fill="#4d4d4d">46</text>
<line x1="390.7" x2="390.7" y1="507.5" y2="509.0" stroke="#666" stroke-width="0.7"/>
<text transform="translate(393.3 510.8) rotate(-90)" font-size="11.3" text-anchor="end" fill="#4d4d4d">60</text>
<line x1="403.6" x2="403.6" y1="507.5" y2="509.0" stroke="#666" stroke-width="0.7"/>
<text transform="translate(406.2 510.8) rotate(-90)" font-size="11.3" text-anchor="end" fill="#4d4d4d">61</text>
<line x1="416.5" x2="416.5" y1="507.5" y2="509.0" stroke="#666" stroke-width="0.7"/>
<text transform="translate(419.1 510.8) rotate(-90)" font-size="11.3" text-anchor="end" fill="#4d4d4d">76</text>
<rect x="428.3" y="38.4" width="67.2" height="17.9" fill="#d9d9d9" stroke="#5c5c5c" stroke-width="1.25"/>
<rect x="428.3" y="56.3" width="67.2" height="451.2" fill="none" stroke="#5c5c5c" stroke-width="1.25"/>
<rect x="427.75" y="98.0" width="1.1" height="1.2" fill="#dadada" fill-opacity="0.75"/>
<rect x="427.75" y="227.6" width="1.1" height="1.2" fill="#dadada" fill-opacity="0.75"/>
<rect x="427.75" y="357.0" width="1.1" height="1.2" fill="#dadada" fill-opacity="0.75"/>
<rect x="427.75" y="486.2" width="1.1" height="1.2" fill="#dadada" fill-opacity="0.75"/>
<rect x="427.75" y="162.45" width="1.1" height="1.1" fill="#fff" fill-opacity="0.85"/>
<rect x="427.75" y="292.25" width="1.1" height="1.1" fill="#fff" fill-opacity="0.85"/>
<rect x="427.75" y="421.65" width="1.1" height="1.1" fill="#fff" fill-opacity="0.85"/>
<text x="461.9" y="52.9" font-size="12" font-weight="bold" text-anchor="middle" fill="#111">5</text>
<line x1="436.4" x2="436.4" y1="507.5" y2="509.0" stroke="#666" stroke-width="0.7"/>
<text transform="translate(439.0 510.8) rotate(-90)" font-size="11.3" text-anchor="end" fill="#4d4d4d">19</text>
<line x1="449.3" x2="449.3" y1="507.5" y2="509.0" stroke="#666" stroke-width="0.7"/>
<text transform="translate(451.9 510.8) rotate(-90)" font-size="11.3" text-anchor="end" fill="#4d4d4d">46</text>
<line x1="462.2" x2="462.2" y1="507.5" y2="509.0" stroke="#666" stroke-width="0.7"/>
<text transform="translate(464.8 510.8) rotate(-90)" font-size="11.3" text-anchor="end" fill="#4d4d4d">60</text>
<line x1="475.1" x2="475.1" y1="507.5" y2="509.0" stroke="#666" stroke-width="0.7"/>
<text transform="translate(477.7 510.8) rotate(-90)" font-size="11.3" text-anchor="end" fill="#4d4d4d">61</text>
<line x1="488.0" x2="488.0" y1="507.5" y2="509.0" stroke="#666" stroke-width="0.7"/>
<text transform="translate(490.6 510.8) rotate(-90)" font-size="11.3" text-anchor="end" fill="#4d4d4d">76</text>
<rect x="499.8" y="38.4" width="67.2" height="17.9" fill="#d9d9d9" stroke="#5c5c5c" stroke-width="1.25"/>
<rect x="499.8" y="56.3" width="67.2" height="451.2" fill="none" stroke="#5c5c5c" stroke-width="1.25"/>
<rect x="499.25" y="98.0" width="1.1" height="1.2" fill="#dadada" fill-opacity="0.75"/>
<rect x="499.25" y="227.6" width="1.1" height="1.2" fill="#dadada" fill-opacity="0.75"/>
<rect x="499.25" y="357.0" width="1.1" height="1.2" fill="#dadada" fill-opacity="0.75"/>
<rect x="499.25" y="486.2" width="1.1" height="1.2" fill="#dadada" fill-opacity="0.75"/>
<rect x="499.25" y="162.45" width="1.1" height="1.1" fill="#fff" fill-opacity="0.85"/>
<rect x="499.25" y="292.25" width="1.1" height="1.1" fill="#fff" fill-opacity="0.85"/>
<rect x="499.25" y="421.65" width="1.1" height="1.1" fill="#fff" fill-opacity="0.85"/>
<text x="533.4" y="52.9" font-size="12" font-weight="bold" text-anchor="middle" fill="#111">6</text>
<line x1="507.9" x2="507.9" y1="507.5" y2="509.0" stroke="#666" stroke-width="0.7"/>
<text transform="translate(510.5 510.8) rotate(-90)" font-size="11.3" text-anchor="end" fill="#4d4d4d">19</text>
<line x1="520.8" x2="520.8" y1="507.5" y2="509.0" stroke="#666" stroke-width="0.7"/>
<text transform="translate(523.4 510.8) rotate(-90)" font-size="11.3" text-anchor="end" fill="#4d4d4d">46</text>
<line x1="533.7" x2="533.7" y1="507.5" y2="509.0" stroke="#666" stroke-width="0.7"/>
<text transform="translate(536.3 510.8) rotate(-90)" font-size="11.3" text-anchor="end" fill="#4d4d4d">60</text>
<line x1="546.6" x2="546.6" y1="507.5" y2="509.0" stroke="#666" stroke-width="0.7"/>
<text transform="translate(549.2 510.8) rotate(-90)" font-size="11.3" text-anchor="end" fill="#4d4d4d">61</text>
<line x1="559.5" x2="559.5" y1="507.5" y2="509.0" stroke="#666" stroke-width="0.7"/>
<text transform="translate(562.1 510.8) rotate(-90)" font-size="11.3" text-anchor="end" fill="#4d4d4d">76</text>
<rect x="571.3" y="38.4" width="67.2" height="17.9" fill="#d9d9d9" stroke="#5c5c5c" stroke-width="1.25"/>
<rect x="571.3" y="56.3" width="67.2" height="451.2" fill="none" stroke="#5c5c5c" stroke-width="1.25"/>
<rect x="570.75" y="98.0" width="1.1" height="1.2" fill="#dadada" fill-opacity="0.75"/>
<rect x="570.75" y="227.6" width="1.1" height="1.2" fill="#dadada" fill-opacity="0.75"/>
<rect x="570.75" y="357.0" width="1.1" height="1.2" fill="#dadada" fill-opacity="0.75"/>
<rect x="570.75" y="486.2" width="1.1" height="1.2" fill="#dadada" fill-opacity="0.75"/>
<rect x="570.75" y="162.45" width="1.1" height="1.1" fill="#fff" fill-opacity="0.85"/>
<rect x="570.75" y="292.25" width="1.1" height="1.1" fill="#fff" fill-opacity="0.85"/>
<rect x="570.75" y="421.65" width="1.1" height="1.1" fill="#fff" fill-opacity="0.85"/>
<text x="604.9" y="52.9" font-size="12" font-weight="bold" text-anchor="middle" fill="#111">7</text>
<line x1="579.3" x2="579.3" y1="507.5" y2="509.0" stroke="#666" stroke-width="0.7"/>
<text transform="translate(581.9 510.8) rotate(-90)" font-size="11.3" text-anchor="end" fill="#4d4d4d">19</text>
<line x1="592.3" x2="592.3" y1="507.5" y2="509.0" stroke="#666" stroke-width="0.7"/>
<text transform="translate(594.9 510.8) rotate(-90)" font-size="11.3" text-anchor="end" fill="#4d4d4d">46</text>
<line x1="605.2" x2="605.2" y1="507.5" y2="509.0" stroke="#666" stroke-width="0.7"/>
<text transform="translate(607.8 510.8) rotate(-90)" font-size="11.3" text-anchor="end" fill="#4d4d4d">60</text>
<line x1="618.1" x2="618.1" y1="507.5" y2="509.0" stroke="#666" stroke-width="0.7"/>
<text transform="translate(620.7 510.8) rotate(-90)" font-size="11.3" text-anchor="end" fill="#4d4d4d">61</text>
<line x1="631.0" x2="631.0" y1="507.5" y2="509.0" stroke="#666" stroke-width="0.7"/>
<text transform="translate(633.6 510.8) rotate(-90)" font-size="11.3" text-anchor="end" fill="#4d4d4d">76</text>
<rect x="642.8" y="38.4" width="67.2" height="17.9" fill="#d9d9d9" stroke="#5c5c5c" stroke-width="1.25"/>
<rect x="642.8" y="56.3" width="67.2" height="451.2" fill="none" stroke="#5c5c5c" stroke-width="1.25"/>
<rect x="642.25" y="98.0" width="1.1" height="1.2" fill="#dadada" fill-opacity="0.75"/>
<rect x="642.25" y="227.6" width="1.1" height="1.2" fill="#dadada" fill-opacity="0.75"/>
<rect x="642.25" y="357.0" width="1.1" height="1.2" fill="#dadada" fill-opacity="0.75"/>
<rect x="642.25" y="486.2" width="1.1" height="1.2" fill="#dadada" fill-opacity="0.75"/>
<rect x="642.25" y="162.45" width="1.1" height="1.1" fill="#fff" fill-opacity="0.85"/>
<rect x="642.25" y="292.25" width="1.1" height="1.1" fill="#fff" fill-opacity="0.85"/>
<rect x="642.25" y="421.65" width="1.1" height="1.1" fill="#fff" fill-opacity="0.85"/>
<text x="676.4" y="52.9" font-size="12" font-weight="bold" text-anchor="middle" fill="#111">8</text>
<line x1="650.8" x2="650.8" y1="507.5" y2="509.0" stroke="#666" stroke-width="0.7"/>
<text transform="translate(653.4 510.8) rotate(-90)" font-size="11.3" text-anchor="end" fill="#4d4d4d">19</text>
<line x1="663.8" x2="663.8" y1="507.5" y2="509.0" stroke="#666" stroke-width="0.7"/>
<text transform="translate(666.4 510.8) rotate(-90)" font-size="11.3" text-anchor="end" fill="#4d4d4d">46</text>
<line x1="676.7" x2="676.7" y1="507.5" y2="509.0" stroke="#666" stroke-width="0.7"/>
<text transform="translate(679.3 510.8) rotate(-90)" font-size="11.3" text-anchor="end" fill="#4d4d4d">60</text>
<line x1="689.6" x2="689.6" y1="507.5" y2="509.0" stroke="#666" stroke-width="0.7"/>
<text transform="translate(692.2 510.8) rotate(-90)" font-size="11.3" text-anchor="end" fill="#4d4d4d">61</text>
<line x1="702.5" x2="702.5" y1="507.5" y2="509.0" stroke="#666" stroke-width="0.7"/>
<text transform="translate(705.1 510.8) rotate(-90)" font-size="11.3" text-anchor="end" fill="#4d4d4d">76</text>
<rect x="714.3" y="38.4" width="67.2" height="17.9" fill="#d9d9d9" stroke="#5c5c5c" stroke-width="1.25"/>
<rect x="714.3" y="56.3" width="67.2" height="451.2" fill="none" stroke="#5c5c5c" stroke-width="1.25"/>
<rect x="713.75" y="98.0" width="1.1" height="1.2" fill="#dadada" fill-opacity="0.75"/>
<rect x="713.75" y="227.6" width="1.1" height="1.2" fill="#dadada" fill-opacity="0.75"/>
<rect x="713.75" y="357.0" width="1.1" height="1.2" fill="#dadada" fill-opacity="0.75"/>
<rect x="713.75" y="486.2" width="1.1" height="1.2" fill="#dadada" fill-opacity="0.75"/>
<rect x="713.75" y="162.45" width="1.1" height="1.1" fill="#fff" fill-opacity="0.85"/>
<rect x="713.75" y="292.25" width="1.1" height="1.1" fill="#fff" fill-opacity="0.85"/>
<rect x="713.75" y="421.65" width="1.1" height="1.1" fill="#fff" fill-opacity="0.85"/>
<text x="747.9" y="52.9" font-size="12" font-weight="bold" text-anchor="middle" fill="#111">9</text>
<line x1="722.3" x2="722.3" y1="507.5" y2="509.0" stroke="#666" stroke-width="0.7"/>
<text transform="translate(724.9 510.8) rotate(-90)" font-size="11.3" text-anchor="end" fill="#4d4d4d">19</text>
<line x1="735.3" x2="735.3" y1="507.5" y2="509.0" stroke="#666" stroke-width="0.7"/>
<text transform="translate(737.9 510.8) rotate(-90)" font-size="11.3" text-anchor="end" fill="#4d4d4d">46</text>
<line x1="748.2" x2="748.2" y1="507.5" y2="509.0" stroke="#666" stroke-width="0.7"/>
<text transform="translate(750.8 510.8) rotate(-90)" font-size="11.3" text-anchor="end" fill="#4d4d4d">60</text>
<line x1="761.1" x2="761.1" y1="507.5" y2="509.0" stroke="#666" stroke-width="0.7"/>
<text transform="translate(763.7 510.8) rotate(-90)" font-size="11.3" text-anchor="end" fill="#4d4d4d">61</text>
<line x1="774.0" x2="774.0" y1="507.5" y2="509.0" stroke="#666" stroke-width="0.7"/>
<text transform="translate(776.6 510.8) rotate(-90)" font-size="11.3" text-anchor="end" fill="#4d4d4d">76</text>
<rect x="785.8" y="38.4" width="67.2" height="17.9" fill="#d9d9d9" stroke="#5c5c5c" stroke-width="1.25"/>
<rect x="785.8" y="56.3" width="67.2" height="451.2" fill="none" stroke="#5c5c5c" stroke-width="1.25"/>
<rect x="785.25" y="98.0" width="1.1" height="1.2" fill="#dadada" fill-opacity="0.75"/>
<rect x="785.25" y="227.6" width="1.1" height="1.2" fill="#dadada" fill-opacity="0.75"/>
<rect x="785.25" y="357.0" width="1.1" height="1.2" fill="#dadada" fill-opacity="0.75"/>
<rect x="785.25" y="486.2" width="1.1" height="1.2" fill="#dadada" fill-opacity="0.75"/>
<rect x="785.25" y="162.45" width="1.1" height="1.1" fill="#fff" fill-opacity="0.85"/>
<rect x="785.25" y="292.25" width="1.1" height="1.1" fill="#fff" fill-opacity="0.85"/>
<rect x="785.25" y="421.65" width="1.1" height="1.1" fill="#fff" fill-opacity="0.85"/>
<text x="819.4" y="52.9" font-size="12" font-weight="bold" text-anchor="middle" fill="#111">10</text>
<line x1="793.8" x2="793.8" y1="507.5" y2="509.0" stroke="#666" stroke-width="0.7"/>
<text transform="translate(796.4 510.8) rotate(-90)" font-size="11.3" text-anchor="end" fill="#4d4d4d">19</text>
<line x1="806.8" x2="806.8" y1="507.5" y2="509.0" stroke="#666" stroke-width="0.7"/>
<text transform="translate(809.4 510.8) rotate(-90)" font-size="11.3" text-anchor="end" fill="#4d4d4d">46</text>
<line x1="819.7" x2="819.7" y1="507.5" y2="509.0" stroke="#666" stroke-width="0.7"/>
<text transform="translate(822.3 510.8) rotate(-90)" font-size="11.3" text-anchor="end" fill="#4d4d4d">60</text>
<line x1="832.6" x2="832.6" y1="507.5" y2="509.0" stroke="#666" stroke-width="0.7"/>
<text transform="translate(835.2 510.8) rotate(-90)" font-size="11.3" text-anchor="end" fill="#4d4d4d">61</text>
<line x1="845.5" x2="845.5" y1="507.5" y2="509.0" stroke="#666" stroke-width="0.7"/>
<text transform="translate(848.1 510.8) rotate(-90)" font-size="11.3" text-anchor="end" fill="#4d4d4d">76</text>
<line x1="139.9" x2="142.3" y1="98.6" y2="98.6" stroke="#5c5c5c" stroke-width="0.9"/>
<text x="137.6" y="103.9" font-size="12.55" text-anchor="end" fill="#3c3c3c">0.015</text>
<line x1="139.9" x2="142.3" y1="228.2" y2="228.2" stroke="#5c5c5c" stroke-width="0.9"/>
<text x="137.6" y="233.5" font-size="12.55" text-anchor="end" fill="#3c3c3c">0.010</text>
<line x1="139.9" x2="142.3" y1="357.6" y2="357.6" stroke="#5c5c5c" stroke-width="0.9"/>
<text x="137.6" y="362.9" font-size="12.55" text-anchor="end" fill="#3c3c3c">0.005</text>
<line x1="139.9" x2="142.3" y1="486.8" y2="486.8" stroke="#5c5c5c" stroke-width="0.9"/>
<text x="137.6" y="492.1" font-size="12.55" text-anchor="end" fill="#3c3c3c">0.000</text>
<text transform="translate(94.4 286.5) rotate(-90)" font-size="18" text-anchor="middle" fill="#111">Peak area (AU)</text>
<text x="483.6" y="544.5" font-size="17.6" fill="#111"><tspan font-style="italic">hR</tspan><tspan font-size="11" dy="3">F</tspan></text>
<text x="388.6" y="563.9" font-size="13.5" fill="#111">Wavelength</text>
<rect x="474.2" y="554.8" width="10.6" height="9.6" fill="#0054a6"/>
<text x="489.6" y="563.9" font-size="13.5" fill="#111" word-spacing="-1.5">396 nm</text>
<rect x="538.0" y="554.8" width="10.4" height="9.6" fill="#e8380d"/>
<text x="553.4" y="563.9" font-size="13.5" fill="#111" word-spacing="-1.5">525 nm</text>
</svg>
</body></html>
